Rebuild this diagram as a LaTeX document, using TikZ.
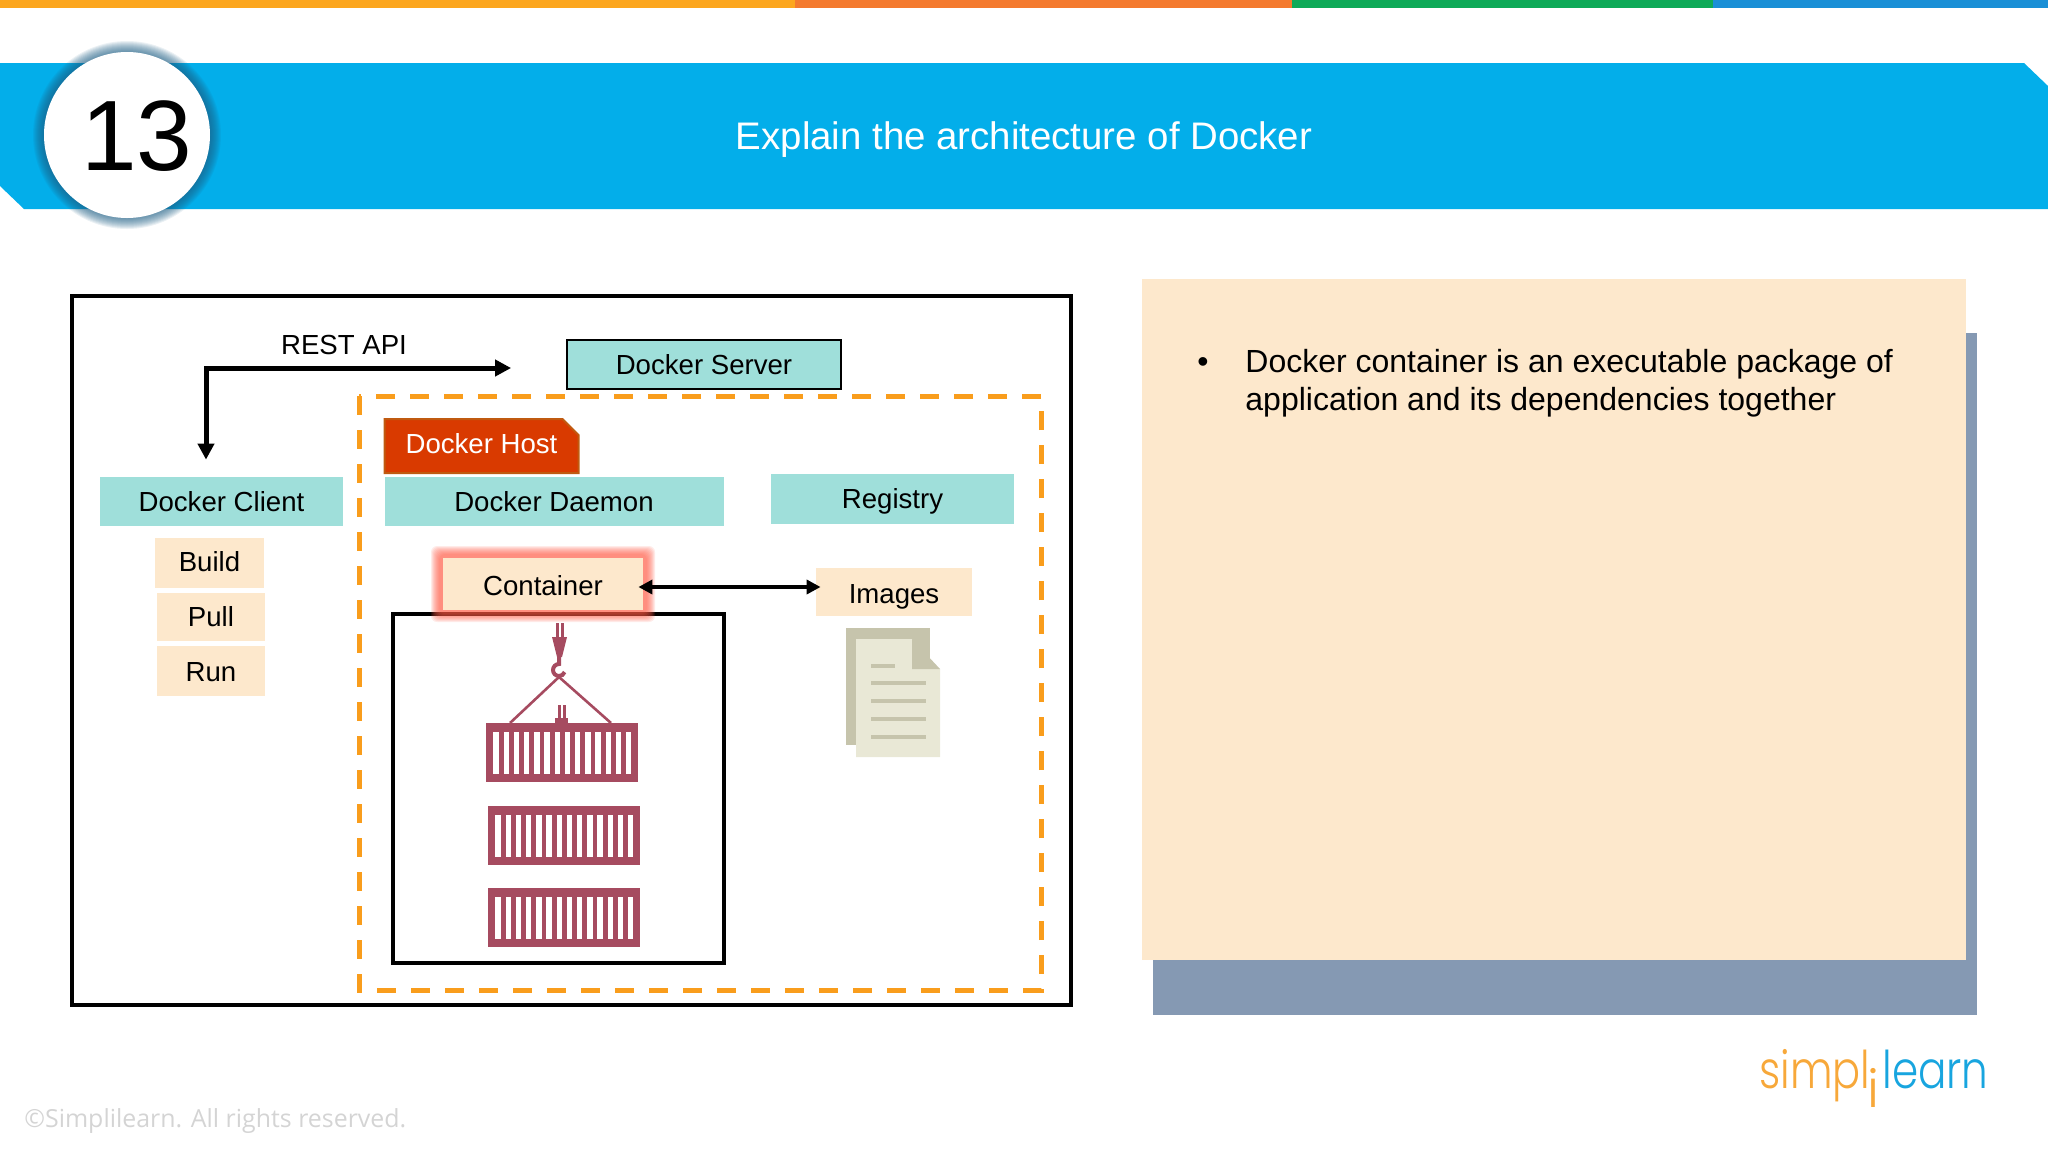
\documentclass[tikz,border=0pt]{standalone}
\usepackage{fontspec}
\setmainfont{Liberation Sans}
\newfontfamily\logofont{Poppins Light}
\newfontfamily\notefont{Open Sans}
\usetikzlibrary{arrows.meta, shapes.misc}

\definecolor{barA}{HTML}{FCA61E}
\definecolor{barB}{HTML}{F47A2E}
\definecolor{barC}{HTML}{0EAA58}
\definecolor{barD}{HTML}{1A8FD6}
\definecolor{banner}{HTML}{03AEEA}
\definecolor{haloblue}{HTML}{1F5F85}
\definecolor{tealbox}{HTML}{9FDFDA}
\definecolor{creambox}{HTML}{FDE8CC}
\definecolor{slate}{HTML}{8599B3}
\definecolor{hostred}{HTML}{D93A00}
\definecolor{hostedge}{HTML}{C05A10}
\definecolor{dashorange}{HTML}{F99D1C}
\definecolor{glowred}{HTML}{FF5A45}
\definecolor{cratered}{HTML}{A64B60}
\definecolor{pageback}{HTML}{C6C4AC}
\definecolor{pagefront}{HTML}{E9E8D6}
\definecolor{logoorange}{HTML}{F7A83A}
\definecolor{logoblue}{HTML}{18A5DF}

\tikzset{
  label14/.style={font=\fontsize{13.8}{17}\selectfont, inner sep=0pt},
  tealnode/.style={label14, fill=tealbox},
  creamnode/.style={label14, fill=creambox},
  heavyarrow/.style={line width=2.5pt, -{Triangle[length=8pt,width=8pt]}},
  crate/.pic={
    \fill[cratered] (0,0) rectangle (152,59);
    \foreach \n in {0,...,13}
      \fill[white] (7.3+10.2*\n,9) rectangle (12.8+10.2*\n,51);
  }
}

\begin{document}
\begin{tikzpicture}[x=0.5pt,y=-0.5pt]
  \useasboundingbox (0,0) rectangle (2048,1152);
  % top stripes
  \fill[barA] (0,0) rectangle (795,8);
  \fill[barB] (795,0) rectangle (1292,8);
  \fill[barC] (1292,0) rectangle (1713,8);
  \fill[barD] (1713,0) rectangle (2048,8);
  % banner
  \fill[banner] (0,63) -- (2024,63) -- (2048,86) -- (2048,209) -- (24,209) -- (0,186) -- cycle;
  \foreach \r in {94,93,...,84}
    \fill[haloblue, opacity=.09] (127,135) circle (\r*0.5pt);
  \fill[white] (127,135) circle (41.5pt);
  \node[font=\fontsize{50}{60}\selectfont, inner sep=0pt] (number) at (137,136) {13};
  \node[font=\fontsize{19.2}{23}\selectfont, text=white, inner sep=0pt] (title) at (1024,140) {Explain the architecture of Docker};

  % diagram frame
  \draw[line width=1.8pt] (72,296) rectangle (1071,1005);
  \draw[dashorange, line width=2.5pt, dash pattern=on 9.5pt off 7.5pt] (359,396) rectangle (1041,990);

  \node[tealnode, draw=black, line width=.9pt, minimum width=137pt, minimum height=24.5pt] (server) at (704,364.5) {Docker Server};
  \node[label14, text height=11.3pt] (rest) at (344,343) {REST API};
  \node[tealnode, minimum width=121.5pt, minimum height=24.5pt] (client) at (221.5,501.5) {Docker Client};
  \node[tealnode, minimum width=169.5pt, minimum height=24.5pt] (daemon) at (554,501.5) {Docker Daemon};
  \node[tealnode, text height=12.6pt, text depth=3pt, minimum width=121.5pt, minimum height=25pt] (registry) at (892.5,499) {Registry};
  \node[chamfered rectangle, chamfered rectangle corners=north east, chamfered rectangle xsep=4pt, chamfered rectangle ysep=4pt,
    draw=hostedge, fill=hostred, text=white, font=\fontsize{13.8}{17}\selectfont, line width=1pt, inner sep=0pt, text depth=2.6pt,
    minimum width=97pt, minimum height=27pt] (host) at (481.5,446) {Docker Host};

  \node[creamnode, text depth=1.3pt, minimum width=54.5pt, minimum height=25pt] (build) at (209.5,563) {Build};
  \node[creamnode, minimum width=54pt, minimum height=24pt] (pull) at (211,617) {Pull};
  \node[creamnode, text height=11pt, minimum width=54pt, minimum height=25pt] (run) at (211,671) {Run};

  % container stack
  \draw[line width=2.3pt] (393,614) rectangle (724,963);
  \foreach \g in {12,11,...,4}
    \node[fill=glowred, opacity=.12, rounded corners=3pt, inner sep=0pt,
      minimum width={(100+\g)*1pt}, minimum height={(26+\g)*1pt}] at (543,584) {};
  \node[creamnode, text height=11.3pt, minimum width=100pt, minimum height=26pt] (container) at (543,584) {Container};
  \node[creamnode, text height=14pt, text depth=3pt, minimum width=78pt, minimum height=24pt] (images) at (894,592) {Images};

  \pic at (486,723) {crate};
  \pic at (488,806) {crate};
  \pic at (488,888) {crate};
  % hook
  \draw[cratered, line width=1.5pt] (557,623) -- (557,637) (562,623) -- (562,637);
  \fill[cratered] (552,637) -- (567,637) -- (562,657) -- (557,657) -- cycle;
  \draw[cratered, line width=2pt] (559,657) -- (559,664) arc (90:340:3pt);
  \draw[cratered, line width=1.3pt] (510,723) -- (559,677) -- (611,723);
  \fill[cratered] (555,718) rectangle (568,723);
  \draw[cratered, line width=1.5pt] (559,705) -- (559,718) (564,705) -- (564,718);

  % document icon
  \fill[pageback] (846,628) rectangle (930,745);
  \fill[pagefront] (856,639) -- (912,639) -- (912,669) -- (940,669) -- (940,757) -- (856,757) -- cycle;
  \fill[pageback] (912,639) -- (940,669) -- (912,669) -- cycle;
  \draw[pageback, line width=2pt] (871,666) -- (895,666);
  \foreach \y in {683,701,719,737}
    \draw[pageback, line width=2pt] (871,\y) -- (926,\y);

  % connectors
  \draw[heavyarrow, {Triangle[length=8pt,width=8pt]}-{Triangle[length=8pt,width=8pt]}]
    ([shift={(-15.5,-17)}]client.north) |- ([shift={(-55,3.5)}]server.west);
  \draw[line width=2pt, {Triangle[length=7pt,width=7pt]}-{Triangle[length=7pt,width=7pt]}]
    ([shift={(-5,3)}]container.east) -- ([shift={(5,-5)}]images.west);

  % text panel
  \fill[slate] (1153,333) rectangle (1977,1015);
  \fill[creambox] (1142,279) rectangle (1966,960);
  \node[font=\fontsize{16}{19}\selectfont, inner sep=0pt] (dot) at (1203,365) {•};
  \node[anchor=west, align=left, font=\fontsize{16}{19}\selectfont, inner sep=0pt] (note) at (1245,383)
    {Docker container is an executable package of\\application and its dependencies together};

  % logo
  \node[anchor=base west, inner sep=0pt, font=\logofont\fontsize{26}{30}\selectfont, text=logoorange] (simpl) at (1759,1088) {\scalebox{.8}[1]{simpl}};
  \node[anchor=base, inner sep=0pt, font=\logofont\fontsize{26}{30}\selectfont, text=logoorange] (logoi) at (1873,1107) {i};
  \node[anchor=base west, inner sep=0pt, font=\logofont\fontsize{26}{30}\selectfont, text=logoblue] (learn) at (1882,1088) {\scalebox{.81}[1]{learn}};
  \node[anchor=west, inner sep=0pt, font=\notefont\fontsize{12.45}{16}\selectfont, text=black!17] (copy) at (24,1121) {©Simplilearn. All rights reserved.};
\end{tikzpicture}
\end{document}
